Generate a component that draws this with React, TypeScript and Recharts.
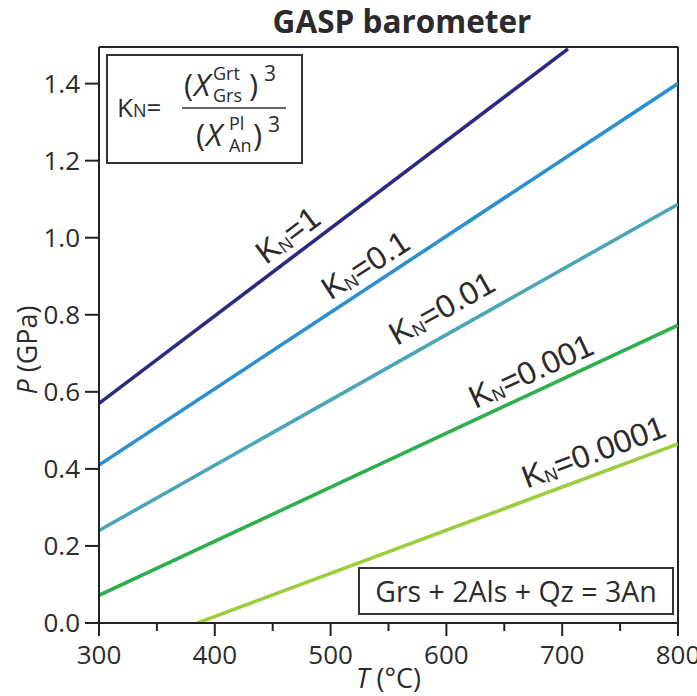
import React from 'react';
import { LineChart, Line, XAxis, YAxis, ReferenceLine, ReferenceDot, Customized } from 'recharts';

// Temperature (°C) axis ticks: majors every 100, minors in between
const tempTicks = [300, 350, 400, 450, 500, 550, 600, 650, 700, 750, 800];
const pressureTicks = [0, 0.2, 0.4, 0.6, 0.8, 1.0, 1.2, 1.4];
const tempDomain = [300, 800];
const pressureDomain = [0, 1.495];

// Isopleths of K_N for the GASP equilibrium (T in °C, P in GPa)
const kn1 = [{ T: 300, P: 0.57 }, { T: 705, P: 1.49 }];
const kn01 = [{ T: 300, P: 0.41 }, { T: 800, P: 1.4 }];
const kn001 = [{ T: 300, P: 0.24 }, { T: 800, P: 1.087 }];
const kn0001 = [{ T: 300, P: 0.072 }, { T: 800, P: 0.773 }];
const kn00001 = [{ T: 385, P: 0 }, { T: 800, P: 0.465 }];

const seriesNames = ['1', '0.1', '0.01', '0.001', '0.0001'];
const seriesData = [kn1, kn01, kn001, kn0001, kn00001];
const seriesColors = ['#2c2a80', '#2b8fd0', '#4aa5b6', '#2fae4e', '#9dcc3c'];

// Where each K_N label sits (T, P of its centre) and its tilt along the line
const labelT = [463, 530, 596, 673, 727];
const labelP = [1.007, 0.929, 0.817, 0.654, 0.444];
const labelAngle = [-37, -33, -29.3, -25, -20.5];

const ink = '#2b2b2b';
const uiFont = '"Open Sans", sans-serif';
const labelFont = '"Liberation Sans", Arial, sans-serif';

const TempTick = (props: any) => {
  const { x, y, payload } = props;
  const major = payload.value % 100 === 0;
  return (
    <g>
      <line x1={x} x2={x} y1={y} y2={y + (major ? 13 : 8)} stroke="#222" strokeWidth={2} />
      {major && (
        <text x={x} y={y + 41} textAnchor="middle" fontSize={26} fontFamily={uiFont} fill={ink}>
          {payload.value}
        </text>
      )}
    </g>
  );
};

const makeLabelShape = (i: number) => (props: any) => {
  const { cx, cy } = props;
  return (
    <text
      x={cx}
      y={cy}
      textAnchor="middle"
      dominantBaseline="central"
      transform={`rotate(${labelAngle[i]} ${cx} ${cy})`}
      fontSize={32}
      fontFamily={labelFont}
      fill={ink}
    >
      <tspan>K</tspan>
      <tspan fontSize={18} dy={7}>N</tspan>
      <tspan dy={-7}>={seriesNames[i]}</tspan>
    </text>
  );
};

const YTitle = (props: any) => {
  const { viewBox } = props;
  const cx = viewBox.x + 26;
  const cy = viewBox.y + viewBox.height / 2 + 15;
  return (
    <text
      x={cx}
      y={cy}
      textAnchor="middle"
      dominantBaseline="central"
      transform={`rotate(-90 ${cx} ${cy})`}
      fontSize={27}
      fontFamily={uiFont}
      fill={ink}
    >
      <tspan fontStyle="italic">P</tspan> (GPa)
    </text>
  );
};

const XTitle = (props: any) => {
  const { viewBox } = props;
  return (
    <text
      x={viewBox.x + viewBox.width / 2}
      y={viewBox.y + 65}
      textAnchor="middle"
      fontSize={27}
      fontFamily={uiFont}
      fill={ink}
    >
      <tspan fontStyle="italic">T</tspan> (°C)
    </text>
  );
};

// Title, K_N definition box and reaction box
const Annotations = () => (
  <g fontFamily={uiFont} fill={ink}>
    <text x={402} y={33} textAnchor="middle" fontSize={31.5} fontWeight="bold">
      GASP barometer
    </text>

    <rect x={107} y={55} width={195} height={108} fill="#fff" stroke="#333" strokeWidth={2} />
    <text x={117} y={117} fontSize={26}>
      K<tspan fontSize={18}>N</tspan>=
    </text>
    <line x1={182} x2={286} y1={108} y2={108} stroke="#333" strokeWidth={1.6} />
    {/* numerator */}
    <text x={184} y={96} fontSize={31}>(</text>
    <text x={194} y={96} fontSize={31} fontStyle="italic">X</text>
    <text x={213} y={80} fontSize={18}>Grt</text>
    <text x={213} y={102} fontSize={18}>Grs</text>
    <text x={249} y={96} fontSize={31}>)</text>
    <text x={264} y={81} fontSize={21}>3</text>
    {/* denominator */}
    <text x={196} y={146} fontSize={31}>(</text>
    <text x={206} y={146} fontSize={31} fontStyle="italic">X</text>
    <text x={229} y={130} fontSize={18}>Pl</text>
    <text x={229} y={152} fontSize={18}>An</text>
    <text x={253} y={146} fontSize={31}>)</text>
    <text x={268} y={132} fontSize={21}>3</text>

    <rect x={359} y={568} width={314} height={46} fill="#fff" stroke="#333" strokeWidth={2} />
    <text x={516} y={602} textAnchor="middle" fontSize={28.5}>
      Grs + 2Als + Qz = 3An
    </text>
  </g>
);

export default function App() {
  return (
    <div style={{ position: 'absolute', left: 0, top: 0, background: '#fff' }}>
      <LineChart width={697} height={696} margin={{ top: 47, right: 19, bottom: 0, left: 0 }}>
        <XAxis
          type="number"
          dataKey="T"
          domain={tempDomain}
          ticks={tempTicks}
          interval={0}
          allowDataOverflow
          height={73}
          tickSize={0}
          tickMargin={0}
          tickLine={false}
          axisLine={{ stroke: '#222', strokeWidth: 2 }}
          tick={<TempTick />}
          label={<XTitle />}
        />
        <YAxis
          type="number"
          domain={pressureDomain}
          ticks={pressureTicks}
          interval={0}
          allowDataOverflow
          width={99}
          tickSize={14}
          tickMargin={5}
          tickFormatter={(v: number) => v.toFixed(1)}
          tickLine={{ stroke: '#222', strokeWidth: 2 }}
          axisLine={{ stroke: '#222', strokeWidth: 2 }}
          tick={{ fill: ink, fontSize: 26, fontFamily: uiFont }}
          label={<YTitle />}
        />
        <ReferenceLine y={pressureDomain[1]} stroke="#222" strokeWidth={2} ifOverflow="extendDomain" />
        <ReferenceLine x={tempDomain[1]} stroke="#222" strokeWidth={2} />
        {seriesData.map((d, i) => (
          <Line
            key={seriesNames[i]}
            data={d}
            dataKey="P"
            type="linear"
            stroke={seriesColors[i]}
            strokeWidth={3.6}
            dot={false}
            activeDot={false}
            isAnimationActive={false}
          />
        ))}
        {seriesNames.map((n, i) => (
          <ReferenceDot key={'lab' + n} x={labelT[i]} y={labelP[i]} r={0} shape={makeLabelShape(i)} />
        ))}
        <Customized component={<Annotations />} />
      </LineChart>
    </div>
  );
}
